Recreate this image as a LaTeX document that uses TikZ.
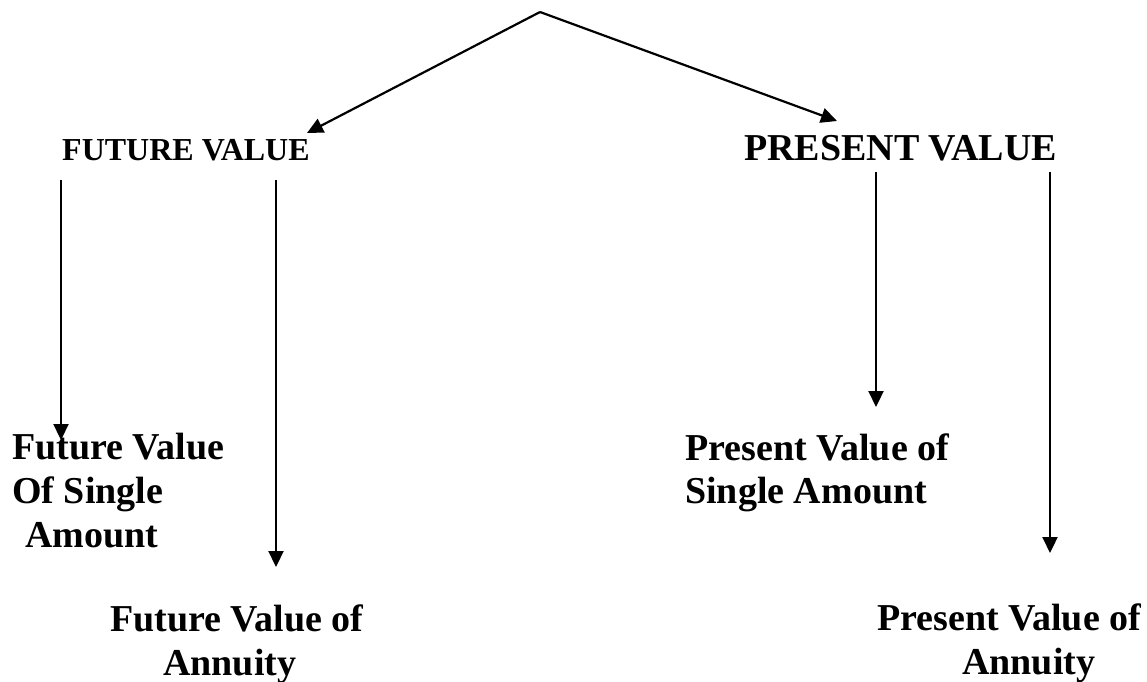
\documentclass[tikz,border=0pt]{standalone}
\usepackage{fontspec}
\setmainfont{Liberation Serif}
\usetikzlibrary{arrows.meta}
\begin{document}
\begin{tikzpicture}[x=1pt,y=-1pt,
  big/.style={font=\fontsize{38}{44}\selectfont\bfseries, inner sep=0pt, anchor=base west},
  small/.style={font=\fontsize{32}{38}\selectfont\bfseries, inner sep=0pt, anchor=base west},
  arr/.style={-{Triangle[length=16pt,width=15pt]}, line width=2.2pt}]
\useasboundingbox[fill=white] (0,0) rectangle (1147,681);
% headings
\node[small] (fv) at (62,160) {FUTURE VALUE};
\node[big] (pv) at (744,160) {PRESENT VALUE};
% leaf texts
\node[big] (fvsa1) at (12,459) {Future Value};
\node[big] (fvsa2) at (12,503) {Of Single};
\node[big] (fvsa3) at (25,547) {Amount};
\node[big] (fva1) at (110,631) {Future Value of};
\node[big] (fva2) at (163,675) {Annuity};
\node[big] (pvsa1) at (685,460) {Present Value of};
\node[big] (pvsa2) at (685,503) {Single Amount};
\node[big] (pva1) at (877,630) {Present Value of};
\node[big] (pva2) at (962,674) {Annuity};
% connector points
\coordinate (top) at (540,12);
\coordinate (fvin) at (307,133);
\coordinate (pvin) at (837,121);
\coordinate (fvA) at (61,180);
\coordinate (fvB) at (276,180);
\coordinate (pvA) at (876,172);
\coordinate (pvB) at (1050,172);
\coordinate (fvsain) at (61,440);
\coordinate (fvain) at (276,567);
\coordinate (pvsain) at (876,407);
\coordinate (pvain) at (1050,553);
% connectors
\draw[arr] (top) -- (fvin);
\draw[arr] (top) -- (pvin);
\draw[arr] (fvA) -- (fvsain);
\draw[arr] (fvB) -- (fvain);
\draw[arr] (pvA) -- (pvsain);
\draw[arr] (pvB) -- (pvain);
\end{tikzpicture}
\end{document}
